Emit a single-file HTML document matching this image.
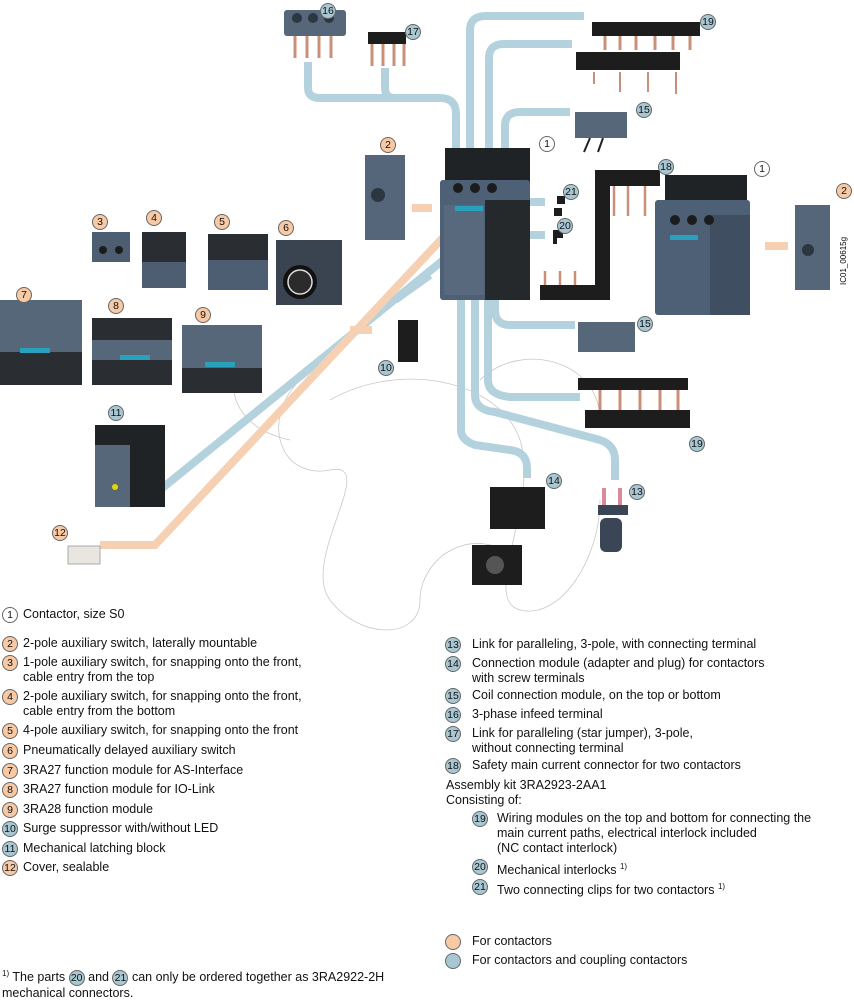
<!DOCTYPE html>
<html><head><meta charset="utf-8"><style>
html,body{margin:0;padding:0;background:#fff;}
body{width:854px;height:1000px;position:relative;overflow:hidden;font-family:"Liberation Sans",sans-serif;font-size:12.5px;color:#111;}
svg{position:absolute;left:0;top:0;}
.t{position:absolute;white-space:nowrap;line-height:15px;}
.c{position:absolute;width:14px;height:14px;border-radius:50%;border:1px solid #666;font-size:10.5px;text-align:center;line-height:14px;box-sizing:content-box;}
.o{background:#f8c9a5}.b{background:#a8c7d3}.w{background:#fff}
</style></head><body>
<svg width="854" height="1000" viewBox="0 0 854 1000">
<g fill="none" stroke="#c8c8c8" stroke-width="0.8">
<path d="M300 380 C260 420 280 480 330 470 C380 460 300 560 330 600 C360 640 420 640 420 600 C420 560 470 520 520 560"/>
<path d="M330 400 C400 360 500 380 520 440 C540 500 480 600 520 610 C560 620 600 560 600 500"/>
<path d="M260 380 C240 330 200 420 290 440"/>
<path d="M480 380 C520 340 600 360 600 420"/>
</g>
<g fill="none" stroke="#b4d2de" stroke-width="8" stroke-linecap="butt">
<path d="M308 62 V88 Q308 98 320 98 H440 Q456 98 456 114 V172"/>
<path d="M385 68 V88 Q385 98 395 98"/>
<path d="M470 176 V30 Q470 16 486 16 H584"/>
<path d="M489 200 V58 Q489 44 504 44 H572"/>
<path d="M505 168 V126 Q505 112 520 112 H570"/>
<path d="M525 202 H545"/><path d="M520 235 H545"/>
<path d="M461 290 V430 Q461 440 475 445 L510 450 Q527 452 527 468 V478"/>
<path d="M475 290 V395 Q475 410 495 412 L600 440 Q615 445 615 460 V480"/>
<path d="M488 292 V380 Q488 395 510 397 H580"/>
<path d="M495 290 V310 Q495 325 510 325 H575"/>
<path d="M468 240 L160 490 H140"/>
<path d="M430 275 L395 300"/>
</g>
<g fill="none" stroke="#f6d0b3" stroke-width="8">
<path d="M452 228 L155 545 H100"/>
<path d="M412 208 H432"/><path d="M765 246 H788"/><path d="M350 330 H372"/>
</g>
<!-- 16 -->
<rect x="284" y="10" width="62" height="26" rx="3" fill="#56677a"/>
<circle cx="297" cy="18" r="5" fill="#2c3640"/><circle cx="313" cy="18" r="5" fill="#2c3640"/><circle cx="329" cy="18" r="5" fill="#2c3640"/>
<g stroke="#c89078" stroke-width="3"><path d="M295 36v22M307 36v22M319 36v22M331 36v22"/></g>
<!-- 17 -->
<rect x="368" y="32" width="38" height="12" fill="#1d1d1d"/>
<g stroke="#c89078" stroke-width="3"><path d="M372 44v22M383 44v22M394 44v22M404 44v22"/></g>
<!-- 19 top -->
<path d="M592 22 H700 V36 H592Z" fill="#1d1d1d"/>
<g stroke="#c89078" stroke-width="3"><path d="M605 36v14M620 36v14M636 36v14M655 36v14M673 36v14M690 36v14"/></g>
<path d="M576 52 H680 V70 H576Z" fill="#1d1d1d"/>
<g stroke="#c89078" stroke-width="2"><path d="M594 72v12M620 72v20M648 72v20M676 72v22"/></g>
<!-- 15 top -->
<rect x="575" y="112" width="52" height="26" fill="#56677a"/>
<path d="M590 138 L584 152 M603 138 L598 152" stroke="#222" stroke-width="2"/>
<!-- 2 -->
<rect x="365" y="155" width="40" height="85" fill="#55667a"/><circle cx="378" cy="195" r="7" fill="#2c3640"/>
<!-- main contactor -->
<rect x="445" y="148" width="85" height="60" fill="#1f2326"/>
<rect x="440" y="180" width="90" height="120" rx="3" fill="#4d6075"/>
<rect x="485" y="200" width="45" height="100" fill="#26292c"/>
<rect x="444" y="205" width="40" height="90" fill="#58697d"/>
<circle cx="458" cy="188" r="5" fill="#1c1c1c"/><circle cx="475" cy="188" r="5" fill="#1c1c1c"/><circle cx="492" cy="188" r="5" fill="#1c1c1c"/>
<rect x="455" y="206" width="28" height="5" fill="#29a1bd"/>
<!-- 21 20 -->
<rect x="557" y="196" width="8" height="8" fill="#1d1d1d"/><rect x="554" y="208" width="8" height="8" fill="#1d1d1d"/>
<path d="M553 230 h10 v8 h-6 v6 h-4z" fill="#1d1d1d"/>
<!-- 18 -->
<path d="M595 170 H660 V186 H610 V300 H540 V285 H595Z" fill="#1d1d1d"/>
<g stroke="#c89078" stroke-width="2.5"><path d="M614 186v30M628 186v30M645 186v30M545 285v-14M560 285v-14M575 285v-14"/></g>
<!-- right contactor -->
<rect x="665" y="175" width="82" height="40" fill="#1f2326"/>
<rect x="655" y="200" width="95" height="115" rx="3" fill="#4d6075"/>
<rect x="710" y="215" width="40" height="100" fill="#3f4e60"/>
<circle cx="675" cy="220" r="5" fill="#1c1c1c"/><circle cx="692" cy="220" r="5" fill="#1c1c1c"/><circle cx="709" cy="220" r="5" fill="#1c1c1c"/>
<rect x="670" y="235" width="28" height="5" fill="#29a1bd"/>
<!-- right 2 -->
<rect x="795" y="205" width="35" height="85" fill="#55667a"/><circle cx="808" cy="250" r="6" fill="#2c3640"/>
<text x="846" y="285" font-size="8" transform="rotate(-90 846 285)" font-family="Liberation Sans">IC01_00615g</text>
<!-- 3 4 5 6 -->
<rect x="92" y="232" width="38" height="30" fill="#4d5e72"/><circle cx="103" cy="250" r="4" fill="#1c1c1c"/><circle cx="119" cy="250" r="4" fill="#1c1c1c"/>
<rect x="142" y="232" width="44" height="56" fill="#2a2e33"/><rect x="142" y="262" width="44" height="26" fill="#4d5e72"/>
<rect x="208" y="234" width="60" height="56" fill="#2a2e33"/><rect x="208" y="260" width="60" height="30" fill="#4d5e72"/>
<rect x="276" y="240" width="66" height="65" fill="#3a4450"/><circle cx="300" cy="282" r="17" fill="#111"/><circle cx="300" cy="282" r="12" fill="#2b2b2b" stroke="#ddd" stroke-width="1.5"/>
<!-- 7 8 9 -->
<rect x="0" y="300" width="82" height="85" fill="#56677a"/><rect x="0" y="352" width="82" height="33" fill="#2a2e33"/><rect x="20" y="348" width="30" height="5" fill="#29a1bd"/>
<rect x="92" y="318" width="80" height="67" fill="#56677a"/><rect x="92" y="318" width="80" height="22" fill="#2a2e33"/><rect x="92" y="360" width="80" height="25" fill="#2a2e33"/><rect x="120" y="355" width="30" height="5" fill="#29a1bd"/>
<rect x="182" y="325" width="80" height="68" fill="#56677a"/><rect x="182" y="368" width="80" height="25" fill="#2a2e33"/><rect x="205" y="362" width="30" height="5" fill="#29a1bd"/>
<!-- 10 -->
<rect x="398" y="320" width="20" height="42" fill="#1d1d1d"/>
<!-- 11 -->
<rect x="95" y="425" width="70" height="82" fill="#1f2326"/><rect x="95" y="445" width="35" height="62" fill="#56677a"/><circle cx="115" cy="487" r="3" fill="#e8d400"/>
<!-- 12 -->
<rect x="68" y="546" width="32" height="18" fill="#e9e6df" stroke="#999" stroke-width="0.8"/>
<!-- 15 bottom -->
<rect x="578" y="322" width="57" height="30" fill="#56677a"/>
<!-- 19 bottom -->
<rect x="578" y="378" width="110" height="12" fill="#1d1d1d"/>
<g stroke="#c89078" stroke-width="3"><path d="M600 390v22M620 390v22M640 390v22M660 390v22M678 390v22"/></g>
<rect x="585" y="410" width="105" height="18" fill="#1d1d1d"/>
<!-- 14 -->
<rect x="490" y="487" width="55" height="42" fill="#1d1d1d"/>
<path d="M472 545 h50 v40 h-50z" fill="#1d1d1d"/><circle cx="495" cy="565" r="9" fill="#555"/>
<!-- 13 -->
<g stroke="#d98a9a" stroke-width="4"><path d="M604 488v20M620 488v20"/></g>
<rect x="598" y="505" width="30" height="10" fill="#3a4656"/><rect x="600" y="518" width="22" height="34" rx="6" fill="#3a4656"/>
</svg>
<!-- diagram number circles -->
<div class="c b" style="left:320px;top:3px">16</div>
<div class="c b" style="left:405px;top:24px">17</div>
<div class="c b" style="left:700px;top:14px">19</div>
<div class="c b" style="left:636px;top:102px">15</div>
<div class="c w" style="left:539px;top:136px">1</div>
<div class="c o" style="left:380px;top:137px">2</div>
<div class="c b" style="left:563px;top:184px">21</div>
<div class="c b" style="left:557px;top:218px">20</div>
<div class="c b" style="left:658px;top:159px">18</div>
<div class="c w" style="left:754px;top:161px">1</div>
<div class="c o" style="left:836px;top:183px">2</div>
<div class="c o" style="left:92px;top:214px">3</div>
<div class="c o" style="left:146px;top:210px">4</div>
<div class="c o" style="left:214px;top:214px">5</div>
<div class="c o" style="left:278px;top:220px">6</div>
<div class="c o" style="left:16px;top:287px">7</div>
<div class="c o" style="left:108px;top:298px">8</div>
<div class="c o" style="left:195px;top:307px">9</div>
<div class="c b" style="left:378px;top:360px">10</div>
<div class="c b" style="left:637px;top:316px">15</div>
<div class="c b" style="left:689px;top:436px">19</div>
<div class="c b" style="left:108px;top:405px">11</div>
<div class="c o" style="left:52px;top:525px">12</div>
<div class="c b" style="left:546px;top:473px">14</div>
<div class="c b" style="left:629px;top:484px">13</div>
<!-- legend left -->
<div class="c w" style="left:2px;top:607px">1</div><div class="t" style="left:23px;top:607px">Contactor, size S0</div>
<div class="c o" style="left:2px;top:636px">2</div><div class="t" style="left:23px;top:636px">2-pole auxiliary switch, laterally mountable</div>
<div class="c o" style="left:2px;top:655px">3</div><div class="t" style="left:23px;top:655px">1-pole auxiliary switch, for snapping onto the front,<br>cable entry from the top</div>
<div class="c o" style="left:2px;top:689px">4</div><div class="t" style="left:23px;top:689px">2-pole auxiliary switch, for snapping onto the front,<br>cable entry from the bottom</div>
<div class="c o" style="left:2px;top:723px">5</div><div class="t" style="left:23px;top:723px">4-pole auxiliary switch, for snapping onto the front</div>
<div class="c o" style="left:2px;top:743px">6</div><div class="t" style="left:23px;top:743px">Pneumatically delayed auxiliary switch</div>
<div class="c o" style="left:2px;top:763px">7</div><div class="t" style="left:23px;top:763px">3RA27 function module for AS-Interface</div>
<div class="c o" style="left:2px;top:782px">8</div><div class="t" style="left:23px;top:782px">3RA27 function module for IO-Link</div>
<div class="c o" style="left:2px;top:802px">9</div><div class="t" style="left:23px;top:802px">3RA28 function module</div>
<div class="c b" style="left:2px;top:821px">10</div><div class="t" style="left:23px;top:821px">Surge suppressor with/without LED</div>
<div class="c b" style="left:2px;top:841px">11</div><div class="t" style="left:23px;top:841px">Mechanical latching block</div>
<div class="c o" style="left:2px;top:860px">12</div><div class="t" style="left:23px;top:860px">Cover, sealable</div>
<!-- legend right -->
<div class="c b" style="left:445px;top:637px">13</div><div class="t" style="left:472px;top:637px">Link for paralleling, 3-pole, with connecting terminal</div>
<div class="c b" style="left:445px;top:656px">14</div><div class="t" style="left:472px;top:656px">Connection module (adapter and plug) for contactors<br>with screw terminals</div>
<div class="c b" style="left:445px;top:688px">15</div><div class="t" style="left:472px;top:688px">Coil connection module, on the top or bottom</div>
<div class="c b" style="left:445px;top:707px">16</div><div class="t" style="left:472px;top:707px">3-phase infeed terminal</div>
<div class="c b" style="left:445px;top:726px">17</div><div class="t" style="left:472px;top:726px">Link for paralleling (star jumper), 3-pole,<br>without connecting terminal</div>
<div class="c b" style="left:445px;top:758px">18</div><div class="t" style="left:472px;top:758px">Safety main current connector for two contactors</div>
<div class="t" style="left:446px;top:778px">Assembly kit 3RA2923-2AA1<br>Consisting of:</div>
<div class="c b" style="left:472px;top:811px">19</div><div class="t" style="left:497px;top:811px">Wiring modules on the top and bottom for connecting the<br>main current paths, electrical interlock included<br>(NC contact interlock)</div>
<div class="c b" style="left:472px;top:859px">20</div><div class="t" style="left:497px;top:859px">Mechanical interlocks <sup style="font-size:8px">1)</sup></div>
<div class="c b" style="left:472px;top:879px">21</div><div class="t" style="left:497px;top:879px">Two connecting clips for two contactors <sup style="font-size:8px">1)</sup></div>
<div class="c o" style="left:445px;top:934px"></div><div class="t" style="left:472px;top:934px">For contactors</div>
<div class="c b" style="left:445px;top:953px"></div><div class="t" style="left:472px;top:953px">For contactors and coupling contactors</div>
<div class="t" style="left:2px;top:966px"><sup style="font-size:8px">1)</sup> The parts <span class="c b" style="position:relative;display:inline-block;vertical-align:middle">20</span> and <span class="c b" style="position:relative;display:inline-block;vertical-align:middle">21</span> can only be ordered together as 3RA2922-2H<br>mechanical connectors.</div>
</body></html>
